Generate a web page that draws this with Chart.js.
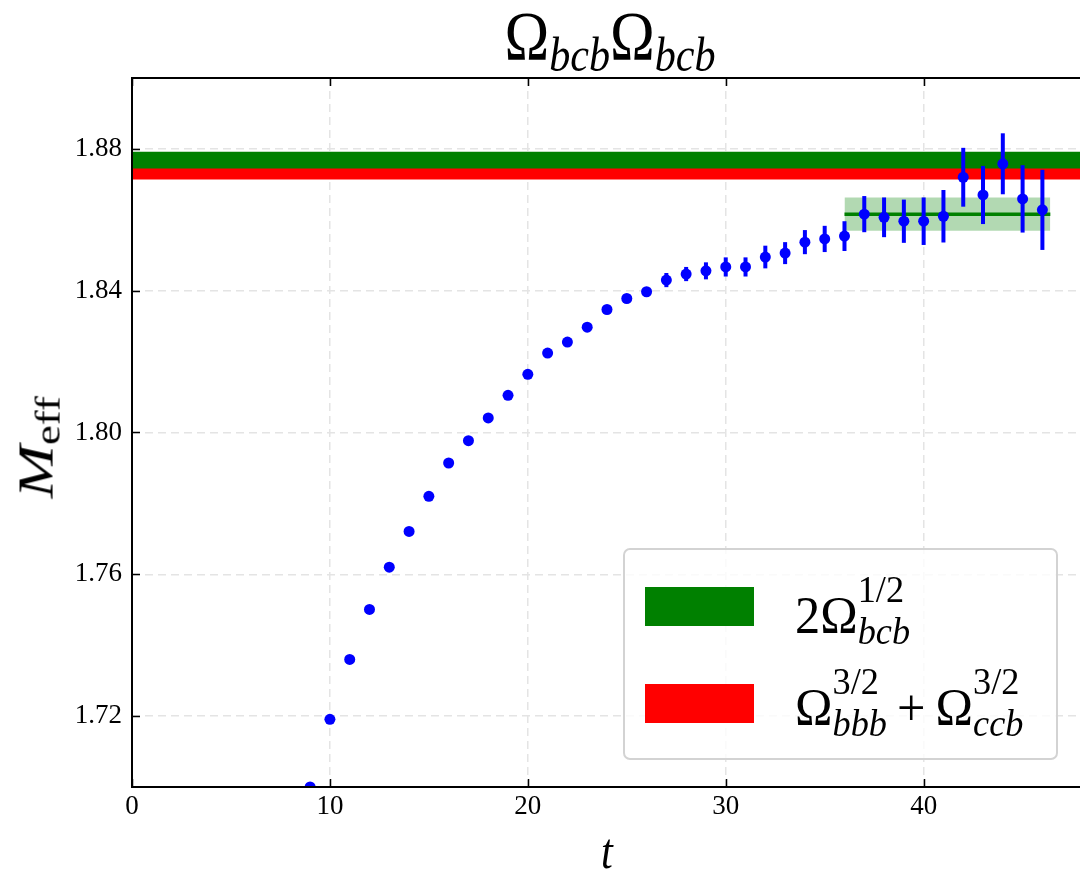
<!DOCTYPE html>
<html>
<head>
<meta charset="utf-8">
<script src="https://cdn.jsdelivr.net/npm/chart.js@4.4.0/dist/chart.umd.min.js"></script>
<style>
  body { margin: 0; background: #fff; overflow: hidden; }
  #wrap { position: relative; width: 1080px; height: 870px; font-family: "Liberation Serif", serif; color: #000; }
  canvas { position: absolute; left: 0; top: 0; }
  .txt { position: absolute; white-space: nowrap; line-height: 1; }
  .it { font-style: italic; }
  .sb { font-size: 0.7em; vertical-align: -0.22em; }
  .scr { display: inline-block; font-size: 0.72em; line-height: 1.11; vertical-align: -0.28em; }
  .scr span { display: block; }
  #title { left: 410px; width: 400px; top: 2px; text-align: center; font-size: 70px; transform: scaleX(0.86); }
  #xlabel { left: 507px; width: 200px; top: 826px; text-align: center; font-size: 50px; transform: scaleX(0.85); }
  #ylabel { left: -62px; width: 200px; top: 412px; text-align: center; font-size: 64px; transform: rotate(-90deg) scaleY(0.8); }
  #legend { position: absolute; left: 623px; top: 548px; width: 431px; height: 208px; border: 2px solid #d3d3d3; border-radius: 7px; background: rgba(255,255,255,0.8); }
  .patch { position: absolute; left: 20px; width: 109px; height: 39px; }
  .ltext { position: absolute; left: 170px; font-size: 52px; transform: scaleX(0.97); transform-origin: left center; }
</style>
</head>
<body>
<div id="wrap">
  <canvas id="chart" width="1080" height="870"></canvas>
  <div id="title" class="txt">Ω<span class="sb it">bcb</span>Ω<span class="sb it">bcb</span></div>
  <div id="xlabel" class="txt"><span class="it">t</span></div>
  <div id="ylabel" class="txt"><span class="it">M</span><span class="sb">eff</span></div>
  <div id="legend">
    <div class="patch" style="top:37px;background:green;"></div>
    <div class="ltext txt" style="top:19px;">2Ω<span class="scr"><span>1/2</span><span class="it">bcb</span></span></div>
    <div class="patch" style="top:134px;background:red;"></div>
    <div class="ltext txt" style="top:111px;">Ω<span class="scr"><span>3/2</span><span class="it">bbb</span></span>&thinsp;+&thinsp;Ω<span class="scr"><span>3/2</span><span class="it">ccb</span></span></div>
  </div>
</div>
<script>
// effective mass of the Omega_bcb Omega_bcb channel
const tValues = [9, 10, 11, 12, 13, 14, 15, 16, 17, 18, 19, 20, 21, 22, 23, 24, 25, 26, 27,
  28, 29, 30, 31, 32, 33, 34, 35, 36, 37, 38, 39, 40, 41, 42, 43, 44, 45, 46];
const massValues = [1.7000, 1.7191, 1.7360, 1.7501, 1.7620, 1.7721, 1.7820, 1.7914, 1.7977, 1.8041,
  1.8105, 1.8164, 1.8224, 1.8255, 1.8297, 1.8347, 1.8378, 1.8397, 1.8430, 1.8447,
  1.8456, 1.8467, 1.8467, 1.8495, 1.8506, 1.8537, 1.8546, 1.8554, 1.8616, 1.8607,
  1.8596, 1.8596, 1.8610, 1.8720, 1.8670, 1.8758, 1.8659, 1.8628];
const massErrors = [0.0004, 0.0004, 0.0004, 0.0004, 0.0004, 0.0004, 0.0004, 0.0004, 0.0004, 0.0004,
  0.0004, 0.0004, 0.0006, 0.0006, 0.0006, 0.0006, 0.0009, 0.0012, 0.0020, 0.0020,
  0.0024, 0.0027, 0.0027, 0.0032, 0.0031, 0.0034, 0.0037, 0.0042, 0.0051, 0.0056,
  0.0061, 0.0067, 0.0074, 0.0083, 0.0082, 0.0086, 0.0095, 0.0113];

// thresholds (lower, upper)
const bandBcb = [1.8742, 1.8792];   // 2 Omega_bcb^{1/2}
const bandBbbCcb = [1.8714, 1.8745]; // Omega_bbb^{3/2} + Omega_ccb^{3/2}

// plateau fit
const fitRange = [36, 46.4];
const fitMass = 1.8616;
const fitError = 0.0047;

const xRange = [0, 47.9];
const yRange = [1.70, 1.90];
const xTicks = [0, 10, 20, 30, 40];
const yTicks = [1.72, 1.76, 1.80, 1.84, 1.88];

function flat(x0, x1, v) {
  return [{ x: x0, y: v }, { x: x1, y: v }];
}

const errorBars = {
  id: 'errorBars',
  beforeDatasetDraw(chart, args) {
    if (args.index !== 0) return;
    const { ctx, chartArea } = chart;
    const x = chart.scales.x, y = chart.scales.y;
    ctx.save();
    ctx.beginPath();
    ctx.rect(chartArea.left, chartArea.top, chartArea.width, chartArea.height);
    ctx.clip();
    ctx.strokeStyle = '#0000ff';
    ctx.lineWidth = 4;
    tValues.forEach((t, i) => {
      const px = x.getPixelForValue(t);
      ctx.beginPath();
      ctx.moveTo(px, y.getPixelForValue(massValues[i] - massErrors[i]));
      ctx.lineTo(px, y.getPixelForValue(massValues[i] + massErrors[i]));
      ctx.stroke();
    });
    ctx.restore();
  }
};

// spines and inward ticks
const frame = {
  id: 'frame',
  afterDraw(chart) {
    const { ctx, chartArea: a } = chart;
    const x = chart.scales.x, y = chart.scales.y;
    ctx.save();
    ctx.strokeStyle = '#000';
    ctx.lineWidth = 2;
    ctx.beginPath();
    ctx.moveTo(a.right + 4, a.top);
    ctx.lineTo(a.left, a.top);
    ctx.lineTo(a.left, a.bottom);
    ctx.lineTo(a.right + 4, a.bottom);
    ctx.stroke();
    ctx.lineWidth = 1.5;
    xTicks.forEach(v => {
      const px = Math.round(x.getPixelForValue(v)) + 0.5;
      ctx.beginPath();
      ctx.moveTo(px, a.bottom);
      ctx.lineTo(px, a.bottom - 8);
      ctx.moveTo(px, a.top);
      ctx.lineTo(px, a.top + 8);
      ctx.stroke();
    });
    yTicks.forEach(v => {
      const py = Math.round(y.getPixelForValue(v)) + 0.5;
      ctx.beginPath();
      ctx.moveTo(a.left, py);
      ctx.lineTo(a.left + 8, py);
      ctx.stroke();
    });
    ctx.restore();
  }
};

const tickFont = { family: '"Liberation Serif", serif', size: 27 };
const gridStyle = { color: '#e4e4e4', lineWidth: 1.5, drawTicks: false };

new Chart(document.getElementById('chart').getContext('2d'), {
  type: 'line',
  data: {
    datasets: [
      {
        label: 'data',
        data: tValues.map((t, i) => ({ x: t, y: massValues[i] })),
        showLine: false,
        pointRadius: 5.5,
        pointBackgroundColor: '#0000ff',
        pointBorderWidth: 0,
        clip: 0
      },
      {
        label: 'fit',
        data: flat(fitRange[0], fitRange[1], fitMass),
        borderColor: '#008000',
        borderWidth: 3.5,
        pointRadius: 0,
        fill: false
      },
      {
        label: 'fit band',
        data: flat(fitRange[0], fitRange[1], fitMass + fitError),
        borderWidth: 0,
        pointRadius: 0,
        backgroundColor: 'rgba(0,128,0,0.3)',
        fill: { value: fitMass - fitError }
      },
      {
        label: 'bbb+ccb',
        data: flat(xRange[0], xRange[1], bandBbbCcb[1]),
        borderWidth: 0,
        pointRadius: 0,
        backgroundColor: '#ff0000',
        fill: { value: bandBbbCcb[0] }
      },
      {
        label: 'bcb',
        data: flat(xRange[0], xRange[1], bandBcb[1]),
        borderWidth: 0,
        pointRadius: 0,
        backgroundColor: '#008000',
        fill: { value: bandBcb[0] }
      }
    ]
  },
  options: {
    responsive: false,
    animation: false,
    devicePixelRatio: 1,
    layout: { autoPadding: false, padding: { top: 78, right: 0, bottom: 0, left: 0 } },
    plugins: { legend: { display: false }, tooltip: { enabled: false }, title: { display: false } },
    scales: {
      x: {
        type: 'linear',
        min: xRange[0],
        max: xRange[1],
        afterBuildTicks: s => { s.ticks = xTicks.map(v => ({ value: v })); },
        afterFit: s => { s.height = 83; },
        ticks: { font: tickFont, color: '#000', padding: 4, maxRotation: 0, callback: v => v },
        grid: gridStyle,
        border: { display: false, dash: [8, 5] }
      },
      y: {
        type: 'linear',
        min: yRange[0],
        max: yRange[1],
        afterBuildTicks: s => { s.ticks = yTicks.map(v => ({ value: v })); },
        afterFit: s => { s.width = 132; },
        ticks: { font: tickFont, color: '#000', padding: 10, callback: v => v.toFixed(2) },
        grid: gridStyle,
        border: { display: false, dash: [8, 5] }
      }
    }
  },
  plugins: [errorBars, frame]
});
</script>
</body>
</html>
